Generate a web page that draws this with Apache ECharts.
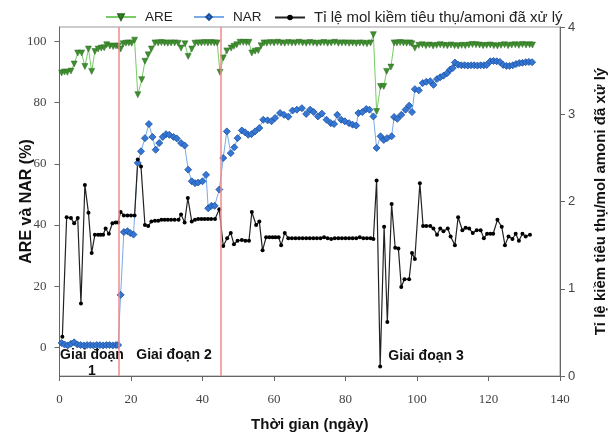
<!DOCTYPE html>
<html><head><meta charset="utf-8">
<script src="https://cdn.jsdelivr.net/npm/echarts@6/dist/echarts.min.js"></script>
<style>html,body{margin:0;padding:0;background:#fff}#c{width:610px;height:435px}</style>
</head><body><div id="c"></div>
<script>
const seriesNames = ['ARE', 'NAR', 'Tỉ lệ mol kiềm tiêu thụ/amoni đã xử lý'];
const xTicks = [0, 20, 40, 60, 80, 100, 120, 140];
const leftTicks = [0, 20, 40, 60, 80, 100];
const rightTicks = [0, 1, 2, 3, 4];
const phaseBoundaries = [16.5, 45];
const phaseLabels = ['Giai đoạn\n1', 'Giai đoạn 2', 'Giai đoạn 3'];

// [day, ARE %]
const areData = [[0.6,89.7],[1.4,90.0],[2.2,89.9],[3.2,90.3],[4.1,92.6],[5.1,96.2],[6.2,96.2],[7.1,91.8],[8.1,97.5],[9.0,90.2],[9.9,96.7],[10.8,97.5],[11.7,97.8],[12.5,97.9],[13.2,98.9],[14.1,98.5],[15.0,98.3],[15.8,98.5],[16.4,98.4],[17.1,97.5],[17.8,99.2],[18.6,99.4],[19.4,99.5],[20.2,99.4],[21.0,100.4],[21.9,82.6],[23.0,87.5],[23.9,93.5],[24.8,95.6],[25.7,97.5],[26.7,99.5],[27.6,99.5],[28.5,99.6],[29.4,99.5],[30.3,99.4],[31.2,99.5],[32.2,99.5],[33.2,99.4],[34.0,97.8],[35.1,99.2],[36.0,95.1],[37.0,97.5],[37.9,99.4],[38.8,99.5],[39.7,99.5],[40.6,99.6],[41.5,99.5],[42.4,99.6],[43.3,99.5],[44.1,99.5],[44.9,89.9],[45.8,94.6],[46.8,96.9],[48.0,97.8],[48.8,98.4],[49.6,98.9],[50.5,99.7],[51.4,99.7],[52.3,99.6],[53.0,99.7],[53.8,96.2],[54.7,96.8],[55.6,97.0],[56.4,98.6],[57.2,99.5],[58.0,99.4],[59.0,99.6],[60.0,99.5],[61.0,99.7],[62.0,99.5],[63.0,99.4],[64.0,99.6],[65.0,99.5],[66.0,99.5],[67.0,99.7],[68.0,99.5],[69.0,99.4],[70.0,99.6],[71.0,99.5],[72.0,99.3],[73.0,99.5],[74.0,99.6],[75.0,99.4],[76.0,99.5],[77.0,99.7],[78.0,99.4],[79.0,99.5],[80.0,99.5],[81.0,99.4],[82.0,99.5],[83.0,99.3],[84.0,99.5],[85.0,99.4],[86.0,99.2],[87.0,99.5],[87.8,102.2],[88.7,77.1],[89.8,85.3],[90.7,85.3],[91.5,90.2],[92.7,91.6],[93.6,99.5],[94.4,99.5],[95.3,99.6],[96.2,99.5],[97.1,99.4],[98.0,99.5],[98.6,99.2],[99.4,97.8],[100.5,98.7],[101.5,98.9],[102.5,98.6],[103.5,98.8],[104.5,98.5],[105.5,98.7],[106.5,98.9],[107.5,98.7],[108.5,98.6],[109.5,98.8],[110.5,98.6],[111.5,98.5],[112.5,98.7],[113.5,98.6],[114.5,98.8],[115.5,99.0],[116.5,98.9],[117.5,98.8],[118.5,98.6],[119.5,98.7],[120.5,98.8],[121.5,98.6],[122.5,98.5],[123.5,98.7],[124.5,98.9],[125.5,98.6],[126.5,98.8],[127.5,98.9],[128.5,98.7],[129.5,99.0],[130.5,98.8],[131.5,98.9],[132.3,98.8]];

// [day, NAR %]
const narData = [[0.6,1.5],[1.4,1.0],[2.3,0.7],[3.2,1.2],[4.1,1.7],[5.0,1.0],[5.9,0.8],[6.8,0.7],[7.7,0.8],[8.6,0.8],[9.5,0.7],[10.4,0.8],[11.3,0.8],[12.2,0.7],[13.1,0.8],[14.0,0.8],[14.9,0.7],[15.8,0.8],[16.4,0.8],[17.1,17.2],[18.0,37.7],[19.0,38.0],[19.8,37.4],[20.7,36.9],[21.9,60.3],[22.8,64.1],[23.9,68.4],[25.0,73.0],[26.0,68.8],[26.9,64.6],[27.9,66.8],[28.9,68.8],[29.8,69.7],[30.7,69.5],[31.9,68.8],[32.8,68.3],[34.0,66.8],[35.0,66.0],[36.0,58.1],[37.0,54.3],[37.9,53.7],[38.8,53.9],[40.0,54.3],[41.0,56.4],[41.6,45.5],[42.5,46.3],[43.4,46.3],[44.7,51.6],[45.8,61.9],[46.8,70.6],[47.9,63.5],[48.9,65.4],[49.8,68.4],[51.0,70.9],[51.9,70.3],[52.8,69.5],[53.7,69.7],[54.7,70.6],[55.9,71.7],[57.0,74.4],[58.2,74.2],[59.3,73.9],[60.3,75.0],[61.7,76.6],[62.8,76.0],[64.0,75.4],[65.2,77.4],[66.4,77.7],[67.8,78.2],[69.0,76.3],[70.1,77.7],[71.1,76.9],[72.3,75.5],[73.4,76.4],[74.7,74.4],[75.9,73.3],[76.8,73.0],[77.7,76.0],[78.8,74.4],[79.8,73.9],[81.0,73.3],[82.0,72.8],[83.0,72.5],[83.6,76.6],[84.7,76.9],[85.8,77.9],[86.7,77.7],[87.8,75.5],[88.7,65.2],[89.8,69.0],[90.7,67.8],[91.6,68.4],[92.9,69.0],[93.6,75.3],[94.5,74.7],[95.6,76.0],[96.8,77.7],[97.8,79.0],[98.6,76.9],[99.4,84.4],[100.5,84.0],[101.6,86.4],[102.6,86.8],[103.7,87.0],[104.6,85.8],[105.6,87.7],[106.5,88.3],[107.4,88.8],[108.4,89.6],[109.3,90.8],[110.0,91.3],[110.6,93.1],[111.5,92.4],[112.4,92.2],[113.3,92.2],[114.2,92.1],[115.1,92.2],[116.0,92.2],[116.9,92.1],[117.8,92.2],[118.7,92.2],[119.5,92.3],[120.5,93.5],[121.4,93.6],[122.3,93.5],[123.2,93.3],[124.1,92.3],[125.0,92.0],[125.9,92.0],[126.8,92.2],[127.7,92.6],[128.6,92.9],[129.5,93.0],[130.4,93.2],[131.3,93.3],[132.2,93.2]];

// [day, molar ratio]
const ratioData = [[0.8,0.45],[2.0,1.82],[3.2,1.81],[4.1,1.75],[5.1,1.81],[6.0,0.83],[7.1,2.19],[8.1,1.87],[9.0,1.41],[9.9,1.62],[10.8,1.62],[11.5,1.62],[12.2,1.62],[12.9,1.69],[13.8,1.63],[14.8,1.75],[15.7,1.76],[16.4,1.76],[17.1,1.88],[18.0,1.84],[19.0,1.84],[20.0,1.84],[21.0,1.84],[21.9,2.48],[22.8,2.40],[23.9,1.73],[24.8,1.72],[25.7,1.77],[26.7,1.78],[27.6,1.78],[28.5,1.79],[29.4,1.79],[30.3,1.79],[31.2,1.79],[32.2,1.79],[33.3,1.79],[34.0,1.85],[35.0,1.76],[35.9,2.04],[37.0,1.77],[37.9,1.79],[38.8,1.80],[39.7,1.80],[40.6,1.80],[41.5,1.80],[42.4,1.80],[43.5,1.80],[44.7,1.91],[45.8,1.49],[46.9,1.58],[47.9,1.64],[48.8,1.51],[49.8,1.55],[51.0,1.56],[52.0,1.55],[53.0,1.55],[53.8,1.88],[55.0,1.73],[55.9,1.77],[56.8,1.44],[57.8,1.59],[58.7,1.59],[59.6,1.59],[60.4,1.59],[61.3,1.59],[62.0,1.50],[63.0,1.64],[64.0,1.58],[65.0,1.58],[66.0,1.58],[67.0,1.58],[68.0,1.58],[69.0,1.58],[70.0,1.58],[71.0,1.58],[72.0,1.58],[73.0,1.58],[74.0,1.59],[75.0,1.58],[76.0,1.57],[77.0,1.58],[78.0,1.58],[79.0,1.58],[80.0,1.58],[81.0,1.58],[82.0,1.58],[83.0,1.58],[84.0,1.59],[85.0,1.58],[86.0,1.58],[87.0,1.58],[87.8,1.57],[88.7,2.24],[89.7,0.11],[90.8,1.71],[91.7,0.62],[92.9,1.97],[93.9,1.47],[94.8,1.46],[95.6,1.02],[96.5,1.11],[97.8,1.11],[98.6,1.41],[99.4,1.34],[100.8,2.21],[101.7,1.72],[102.6,1.72],[103.7,1.72],[104.6,1.69],[105.6,1.62],[106.5,1.69],[107.4,1.66],[108.6,1.69],[109.4,1.60],[110.6,1.50],[111.5,1.82],[112.7,1.67],[113.6,1.70],[114.6,1.69],[115.6,1.64],[116.7,1.67],[117.8,1.67],[118.7,1.58],[119.6,1.63],[120.5,1.63],[121.3,1.63],[122.5,1.79],[123.7,1.71],[124.6,1.50],[125.6,1.60],[126.7,1.57],[127.6,1.63],[128.5,1.55],[129.5,1.63],[130.4,1.60],[131.6,1.62]];

const chart = echarts.init(document.getElementById('c'), null, {renderer: 'canvas'});
const sans = 'Liberation Sans, Arial, sans-serif';
const serif = 'Liberation Serif, Times New Roman, serif';
const legendText = {fontSize: 13.5, fontFamily: sans, color: '#222', padding: [0, 0, 0, 4]};

chart.setOption({
  animation: false,
  backgroundColor: '#fff',
  legend: [
    {data: [seriesNames[0]], left: 105, top: 10, padding: 0, itemWidth: 30, itemHeight: 7, textStyle: legendText},
    {data: [seriesNames[1]], left: 193, top: 10, padding: 0, itemWidth: 30, itemHeight: 7, textStyle: legendText},
    {data: [seriesNames[2]], left: 274, top: 10, padding: 0, itemWidth: 30, itemHeight: 7, textStyle: Object.assign({}, legendText, {fontSize: 15})}
  ],
  grid: {left: 59.5, right: 50, top: 27, bottom: 59, show: true, borderColor: '#999', borderWidth: 1, outerBoundsMode: 'none', containLabel: false},
  xAxis: {
    type: 'value', min: xTicks[0], max: xTicks[xTicks.length - 1], interval: 20,
    axisLine: {show: true, onZero: false, lineStyle: {color: '#666'}},
    axisTick: {show: true, length: 5, lineStyle: {color: '#666'}},
    axisLabel: {fontFamily: serif, fontSize: 13, color: '#444', margin: 17},
    splitLine: {show: false},
    name: 'Thời gian (ngày)', nameLocation: 'middle', nameGap: 41, nameMoveOverlap: false,
    nameTextStyle: {fontFamily: sans, fontWeight: 'bold', fontSize: 15, color: '#111'}
  },
  yAxis: [
    {
      type: 'value', min: -9.3, max: 104.7, position: 'left',
      axisLine: {show: true, onZero: false, lineStyle: {color: '#666'}},
      axisTick: {show: true, length: 5, customValues: leftTicks, lineStyle: {color: '#666'}},
      axisLabel: {customValues: leftTicks, fontFamily: serif, fontSize: 13, color: '#444', margin: 13},
      splitLine: {show: false},
      name: 'ARE và NAR (%)', nameLocation: 'middle', nameGap: 25, nameRotate: 90, nameMoveOverlap: false,
      nameTextStyle: {fontFamily: sans, fontWeight: 'bold', fontSize: 16, color: '#111'}
    },
    {
      type: 'value', min: rightTicks[0], max: rightTicks[rightTicks.length - 1], interval: 1, position: 'right',
      axisLine: {show: true, onZero: false, lineStyle: {color: '#666'}},
      axisTick: {show: true, length: 5, lineStyle: {color: '#666'}},
      axisLabel: {fontFamily: sans, fontSize: 13, color: '#444', margin: 8},
      splitLine: {show: false},
      name: 'Tỉ lệ kiềm tiêu thụ/mol amoni đã xử lý', nameLocation: 'middle', nameGap: 33, nameRotate: 90, nameMoveOverlap: false,
      nameTextStyle: {fontFamily: sans, fontWeight: 'bold', fontSize: 15, color: '#111'}
    }
  ],
  series: [
    {
      name: seriesNames[0], type: 'line', yAxisIndex: 0, data: areData,
      symbol: 'triangle', symbolRotate: 180, symbolSize: 6, showAllSymbol: true,
      lineStyle: {color: '#78cc66', width: 1},
      itemStyle: {color: '#3f8f30', borderColor: '#2a6a1f', borderWidth: 0.5},
      markLine: {
        silent: true, symbol: ['none', 'none'], label: {show: false},
        lineStyle: {color: '#f08a8a', width: 1.5, type: 'solid'},
        data: phaseBoundaries.map(v => ({xAxis: v}))
      }
    },
    {
      name: seriesNames[1], type: 'line', yAxisIndex: 0, data: narData,
      symbol: 'diamond', symbolSize: 7, showAllSymbol: true,
      lineStyle: {color: '#7aaae6', width: 1},
      itemStyle: {color: '#3477d6', borderColor: '#1d4f9a', borderWidth: 0.8}
    },
    {
      name: seriesNames[2], type: 'line', yAxisIndex: 1, data: ratioData,
      symbol: 'circle', symbolSize: 4, showAllSymbol: true,
      lineStyle: {color: '#222', width: 1.2},
      itemStyle: {color: '#000'}
    }
  ],
  graphic: [
    {type: 'text', x: 92, y: 363, style: {text: phaseLabels[0], align: 'center', verticalAlign: 'middle', lineHeight: 16, font: 'bold 14px Liberation Sans, Arial, sans-serif', fill: '#111'}},
    {type: 'text', x: 174, y: 355, style: {text: phaseLabels[1], align: 'center', verticalAlign: 'middle', font: 'bold 14px Liberation Sans, Arial, sans-serif', fill: '#111'}},
    {type: 'text', x: 426, y: 356, style: {text: phaseLabels[2], align: 'center', verticalAlign: 'middle', font: 'bold 14px Liberation Sans, Arial, sans-serif', fill: '#111'}}
  ]
});
</script></body></html>
